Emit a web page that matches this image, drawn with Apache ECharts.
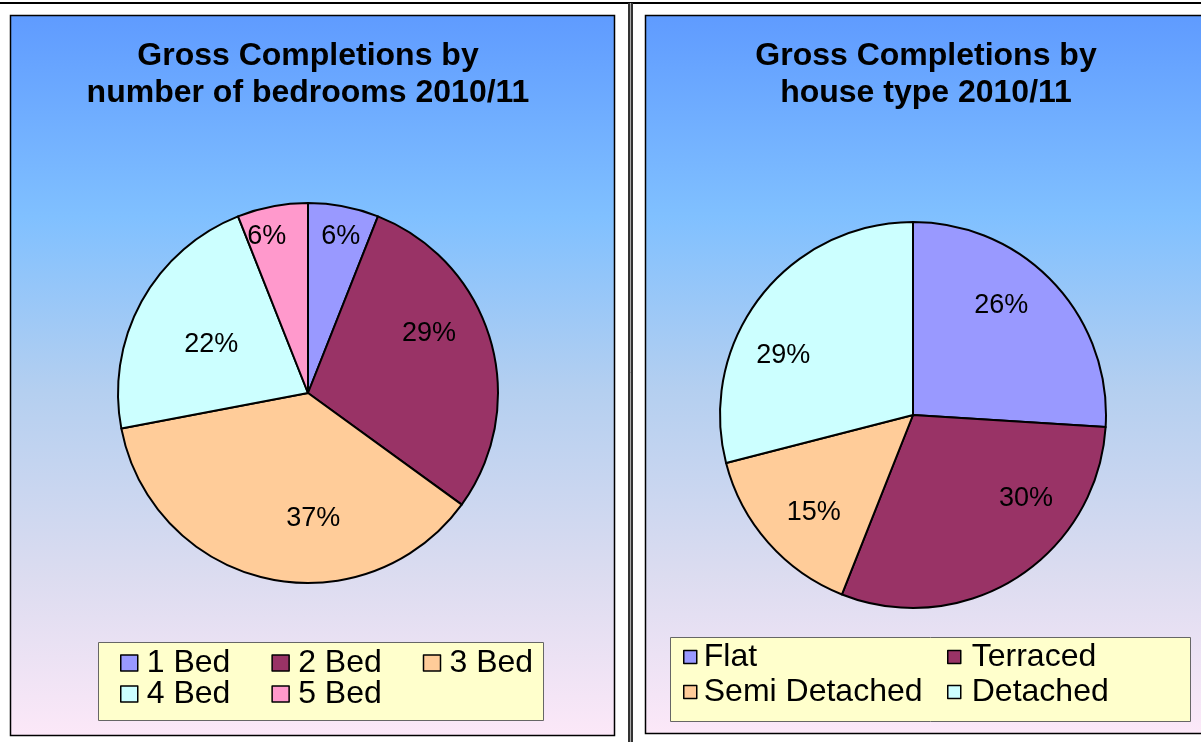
<!DOCTYPE html>
<html>
<head>
<meta charset="utf-8">
<title>Gross Completions 2010/11</title>
<script src="https://cdn.jsdelivr.net/npm/echarts@6/dist/echarts.min.js"></script>
<style>
    html, body { margin: 0; padding: 0; background: #fff; }
    #main { width: 1201px; height: 742px; }
</style>
</head>
<body>
<div id="main"></div>
<script>
"use strict";
var bedroomNames = ['1 Bed', '2 Bed', '3 Bed', '4 Bed', '5 Bed'];
var bedroomValues = [6, 29, 37, 22, 6];
var houseTypeNames = ['Flat', 'Terraced', 'Semi Detached', 'Detached'];
var houseTypeValues = [26, 30, 15, 29];

var bedroomColors = ['#9999ff', '#993366', '#ffcc99', '#ccffff', '#ff99cc'];
var houseTypeColors = ['#9999ff', '#993366', '#ffcc99', '#ccffff'];
// where each % label sits: share of the radius, and turn (deg) off the slice middle
var bedroomLabelDist = [0.84, 0.71, 0.66, 0.57, 0.85];
var bedroomLabelTurn = [1, -10, -15, -2, -4];
var houseTypeLabelDist = [0.73, 0.73, 0.72, 0.74];
var houseTypeLabelTurn = [-8, -21, -3, -13];

var FONT = "'Liberation Sans', Arial, sans-serif";
var leftCenter = [308, 393], leftRadius = 190;
var rightCenter = [913, 415], rightRadius = 193;

var chart = echarts.init(document.getElementById('main'), null, {renderer: 'canvas'});

function panelFill() {
    return {
        type: 'linear', x: 0, y: 0, x2: 0, y2: 1,
        colorStops: [
            {offset: 0, color: '#5f9bff'},
            {offset: 0.28, color: '#80c0ff'},
            {offset: 0.52, color: '#b4cff0'},
            {offset: 0.78, color: '#dcdcf0'},
            {offset: 1, color: '#fce8f8'}
        ]
    };
}

function toData(names, values, colors) {
    return names.map(function (n, i) {
        return {name: n, value: values[i], itemStyle: {color: colors[i]}};
    });
}

// put the inside labels where the original sheet had them
function labelMover(center, radius, dist, turn) {
    return function (params) {
        var r = params.labelRect;
        var vx = r.x + r.width / 2 - center[0];
        var vy = r.y + r.height / 2 - center[1];
        var a = Math.atan2(vx, -vy) + turn[params.dataIndex] * Math.PI / 180;
        var d = dist[params.dataIndex] * radius;
        return {dx: Math.sin(a) * d - vx, dy: -Math.cos(a) * d - vy};
    };
}

function pieSeries(names, values, colors, center, radius, dist, turn) {
    return {
        type: 'pie',
        center: center,
        radius: radius,
        startAngle: 90,
        clockwise: true,
        silent: true,
        animation: false,
        data: toData(names, values, colors),
        itemStyle: {borderColor: '#000', borderWidth: 2},
        label: {
            show: true, position: 'inside', formatter: '{c}%',
            color: '#000', fontSize: 27, fontFamily: FONT
        },
        labelLine: {show: false},
        labelLayout: labelMover(center, radius, dist, turn),
        emphasis: {disabled: true}
    };
}

var legendText = {fontSize: 32, color: '#000', fontFamily: FONT, padding: [0, 0, 0, 4]};

function legend(extra) {
    return Object.assign({
        icon: 'rect',
        padding: 0,
        selectedMode: false,
        itemStyle: {borderColor: '#000', borderWidth: 1.5},
        textStyle: legendText
    }, extra);
}

var titleText = {fontSize: 32, fontWeight: 'bold', color: '#000', fontFamily: FONT, lineHeight: 37};

var option = {
    backgroundColor: '#fff',
    animation: false,
    title: [{
        text: 'Gross Completions by\nnumber of bedrooms 2010/11',
        left: 308, top: 38, padding: 0, textAlign: 'center', textStyle: titleText
    }, {
        text: 'Gross Completions by\nhouse type 2010/11',
        left: 926, top: 38, padding: 0, textAlign: 'center', textStyle: titleText
    }],
    legend: [
        legend({data: bedroomNames.slice(0, 3), left: 120, top: 647, itemGap: 41, itemWidth: 17, itemHeight: 16}),
        legend({data: bedroomNames.slice(3), left: 120, top: 678, itemGap: 41, itemWidth: 17, itemHeight: 16}),
        legend({data: [houseTypeNames[0], houseTypeNames[2]], orient: 'vertical', left: 683, top: 641,
            itemGap: 3, itemWidth: 13, itemHeight: 13,
            textStyle: Object.assign({}, legendText, {padding: [0, 0, 0, 2]})}),
        legend({data: [houseTypeNames[1], houseTypeNames[3]], orient: 'vertical', left: 947, top: 641,
            itemGap: 3, itemWidth: 13, itemHeight: 13,
            textStyle: Object.assign({}, legendText, {padding: [0, 0, 0, 6]})})
    ],
    graphic: [
        // frame lines
        {type: 'line', z: 0, shape: {x1: 0, y1: 3, x2: 1201, y2: 3}, style: {stroke: '#000', lineWidth: 2}},
        {type: 'rect', z: 0, shape: {x: 628, y: 3, width: 5, height: 739}, style: {fill: '#333'}},
        {type: 'line', z: 0, shape: {x1: 630.5, y1: 3, x2: 630.5, y2: 742}, style: {stroke: '#aaa', lineWidth: 1}},
        // panels
        {type: 'rect', z: 0, shape: {x: 10.5, y: 15.5, width: 604, height: 720},
            style: {fill: panelFill(), stroke: '#000', lineWidth: 1.5}},
        {type: 'rect', z: 0, shape: {x: 645.5, y: 15.5, width: 600, height: 718},
            style: {fill: panelFill(), stroke: '#000', lineWidth: 1.5}},
        // legend boxes
        {type: 'rect', z: 1, shape: {x: 98.5, y: 642.5, width: 445, height: 78},
            style: {fill: '#ffffcc', stroke: '#666', lineWidth: 1}},
        {type: 'rect', z: 1, shape: {x: 670.5, y: 637.5, width: 520, height: 84},
            style: {fill: '#ffffcc', stroke: '#666', lineWidth: 1}}
    ],
    series: [
        pieSeries(bedroomNames, bedroomValues, bedroomColors, leftCenter, leftRadius, bedroomLabelDist, bedroomLabelTurn),
        pieSeries(houseTypeNames, houseTypeValues, houseTypeColors, rightCenter, rightRadius, houseTypeLabelDist, houseTypeLabelTurn)
    ]
};

chart.setOption(option);
</script>
</body>
</html>
